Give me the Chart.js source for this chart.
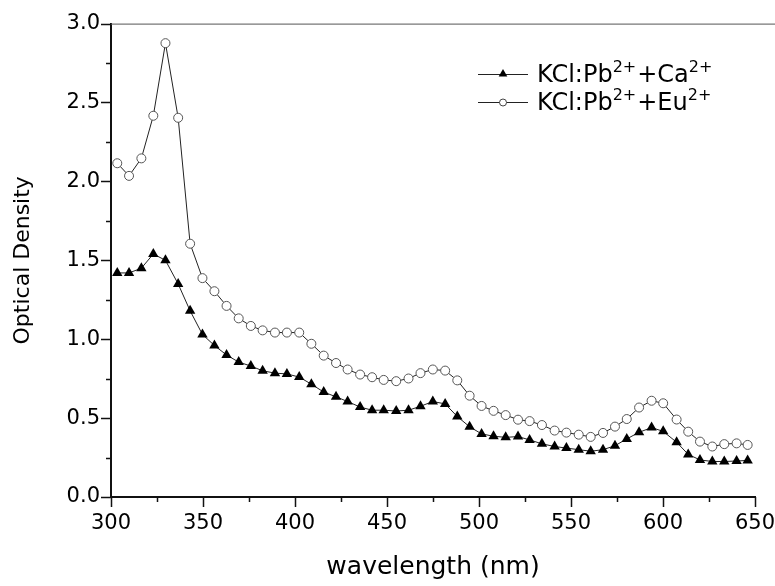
<!DOCTYPE html>
<html>
<head>
<meta charset="utf-8">
<script src="https://cdn.jsdelivr.net/npm/chart.js@4/dist/chart.umd.min.js"></script>
<style>
  html, body { margin: 0; padding: 0; background: #fff; }
  #wrap { width: 775px; height: 586px; position: relative; }
</style>
</head>
<body>
<div id="wrap"><canvas id="chart"></canvas></div>
<script>
// wavelength of each plotted marker (nm)
const wavelengths = [303.4, 309.8, 316.5, 323.0, 329.6, 336.5, 343.0, 349.7, 356.2, 362.8,
  369.4, 376.0, 382.4, 389.1, 395.6, 402.3, 408.9, 415.6, 422.3, 428.6,
  435.4, 441.9, 448.2, 455.0, 461.7, 468.2, 474.9, 481.6, 488.2, 494.9,
  501.4, 507.9, 514.5, 521.2, 527.5, 534.2, 541.1, 547.5, 554.2, 560.7,
  567.4, 573.9, 580.3, 587.0, 593.8, 600.1, 607.4, 613.7, 620.1, 626.8,
  633.3, 640.0, 646.0];

// KCl:Pb2+ + Ca2+  (filled triangles)
const caValues = [1.42, 1.42, 1.45, 1.54, 1.50, 1.35, 1.18, 1.03, 0.96, 0.90,
  0.855, 0.83, 0.80, 0.785, 0.78, 0.76, 0.715, 0.665, 0.635, 0.605,
  0.57, 0.55, 0.55, 0.545, 0.55, 0.575, 0.605, 0.59, 0.51, 0.445,
  0.40, 0.385, 0.378, 0.383, 0.362, 0.337, 0.32, 0.31, 0.30, 0.29,
  0.30, 0.325, 0.368, 0.41, 0.44, 0.416, 0.347, 0.27, 0.235, 0.225,
  0.225, 0.228, 0.232];

// KCl:Pb2+ + Eu2+  (open circles)
const euValues = [2.115, 2.035, 2.146, 2.416, 2.876, 2.403, 1.605, 1.387, 1.304, 1.211,
  1.132, 1.084, 1.056, 1.042, 1.042, 1.042, 0.971, 0.896, 0.849, 0.808,
  0.776, 0.759, 0.742, 0.734, 0.751, 0.785, 0.808, 0.801, 0.739, 0.642,
  0.577, 0.546, 0.519, 0.490, 0.481, 0.456, 0.421, 0.408, 0.395, 0.381,
  0.406, 0.446, 0.494, 0.567, 0.61, 0.594, 0.491, 0.414, 0.351, 0.320,
  0.335, 0.34, 0.33];

const xTicks = [300, 350, 400, 450, 500, 550, 600, 650];
const yTicks = [0.0, 0.5, 1.0, 1.5, 2.0, 2.5, 3.0];

const FONT = 'DejaVu Sans';

function points(values) {
  return wavelengths.map((w, i) => ({ x: w, y: values[i] }));
}

// frame extras: top line, major/minor tick marks, legend with superscripts
const framePlugin = {
  id: 'frame',
  afterDraw(chart) {
    const ctx = chart.ctx;
    const area = chart.chartArea;
    const xs = chart.scales.x;
    const ys = chart.scales.y;
    ctx.save();

    // top line
    ctx.strokeStyle = '#555';
    ctx.lineWidth = 1;
    ctx.beginPath();
    ctx.moveTo(area.left, area.top + 0.5);
    ctx.lineTo(chart.width, area.top + 0.5);
    ctx.stroke();

    // tick marks
    ctx.strokeStyle = '#111';
    ctx.lineWidth = 1.5;
    ctx.beginPath();
    for (let v = 300; v <= 650; v += 25) {
      const px = Math.round(xs.getPixelForValue(v)) + 0.5;
      const len = (v % 50 === 0) ? 10 : 5;
      ctx.moveTo(px, area.bottom);
      ctx.lineTo(px, area.bottom + len);
    }
    for (let v = 0; v <= 3.001; v += 0.25) {
      const py = Math.round(ys.getPixelForValue(v)) + 0.5;
      const len = (Math.abs(v * 2 - Math.round(v * 2)) < 1e-6) ? 10 : 5;
      ctx.moveTo(area.left, py);
      ctx.lineTo(area.left - len, py);
    }
    ctx.stroke();

    // legend
    const rows = [
      { y: 74, tail: '+Ca', ds: chart.data.datasets[0] },
      { y: 102, tail: '+Eu', ds: chart.data.datasets[1] }
    ];
    rows.forEach(r => {
      ctx.strokeStyle = '#222';
      ctx.lineWidth = 1;
      ctx.beginPath();
      ctx.moveTo(478, r.y + 0.5);
      ctx.lineTo(528, r.y + 0.5);
      ctx.stroke();
      ctx.beginPath();
      if (r.ds.pointStyle === 'triangle') {
        const rad = 5;
        ctx.moveTo(503, r.y - rad);
        ctx.lineTo(503 + rad * 0.866, r.y + rad * 0.5);
        ctx.lineTo(503 - rad * 0.866, r.y + rad * 0.5);
        ctx.closePath();
        ctx.fillStyle = '#000';
        ctx.fill();
      } else {
        ctx.arc(503, r.y + 0.5, 3.5, 0, Math.PI * 2);
        ctx.fillStyle = '#fff';
        ctx.fill();
        ctx.strokeStyle = '#444';
        ctx.stroke();
      }
      ctx.fillStyle = '#000';
      ctx.textBaseline = 'alphabetic';
      ctx.textAlign = 'left';
      let x = 537;
      const base = r.y + 8;
      const parts = [['KCl:Pb', false], ['2+', true], [r.tail, false], ['2+', true]];
      parts.forEach(([t, sup]) => {
        ctx.font = sup ? `16px ${FONT}` : `24px ${FONT}`;
        ctx.fillText(t, x, sup ? base - 10 : base);
        x += ctx.measureText(t).width + (sup ? 1 : 0);
      });
    });
    ctx.restore();
  }
};

new Chart(document.getElementById('chart'), {
  type: 'line',
  data: {
    datasets: [
      {
        label: 'KCl:Pb2++Ca2+',
        data: points(caValues),
        borderColor: '#222',
        borderWidth: 1,
        pointStyle: 'triangle',
        pointRadius: 6,
        pointBackgroundColor: '#000',
        pointBorderColor: '#000',
        pointBorderWidth: 0,
        tension: 0
      },
      {
        label: 'KCl:Pb2++Eu2+',
        data: points(euValues),
        borderColor: '#222',
        borderWidth: 1,
        pointStyle: 'circle',
        pointRadius: 4.5,
        pointBackgroundColor: '#fff',
        pointBorderColor: '#555',
        pointBorderWidth: 1,
        tension: 0
      }
    ]
  },
  options: {
    responsive: true,
    maintainAspectRatio: false,
    animation: false,
    layout: { padding: { top: 19, right: 20, left: 0, bottom: 0 } },
    plugins: {
      legend: { display: false },
      tooltip: { enabled: false }
    },
    scales: {
      x: {
        type: 'linear',
        min: 300,
        max: 650,
        afterFit: s => { s.height = 89; s.paddingLeft = 0; s.paddingRight = 0; },
        afterBuildTicks: s => { s.ticks = xTicks.map(v => ({ value: v })); },
        ticks: {
          color: '#000',
          font: { family: FONT, size: 21 },
          padding: 14,
          maxRotation: 0
        },
        grid: { display: true, drawOnChartArea: false, drawTicks: false },
        border: { display: true, color: '#111', width: 2 },
        title: {
          display: true,
          text: 'wavelength (nm)',
          color: '#000',
          font: { family: FONT, size: 25 },
          padding: { top: 0, bottom: 4 }
        }
      },
      y: {
        min: 0,
        max: 3,
        afterFit: s => { s.width = 111; },
        afterBuildTicks: s => { s.ticks = yTicks.map(v => ({ value: v })); },
        ticks: {
          color: '#000',
          font: { family: FONT, size: 21 },
          padding: 11,
          callback: v => v.toFixed(1)
        },
        grid: { display: true, drawOnChartArea: false, drawTicks: false },
        border: { display: true, color: '#111', width: 2 },
        title: {
          display: true,
          text: 'Optical Density',
          color: '#000',
          font: { family: FONT, size: 22 },
          padding: { top: 10, bottom: 0 }
        }
      }
    }
  },
  plugins: [framePlugin]
});
</script>
</body>
</html>
